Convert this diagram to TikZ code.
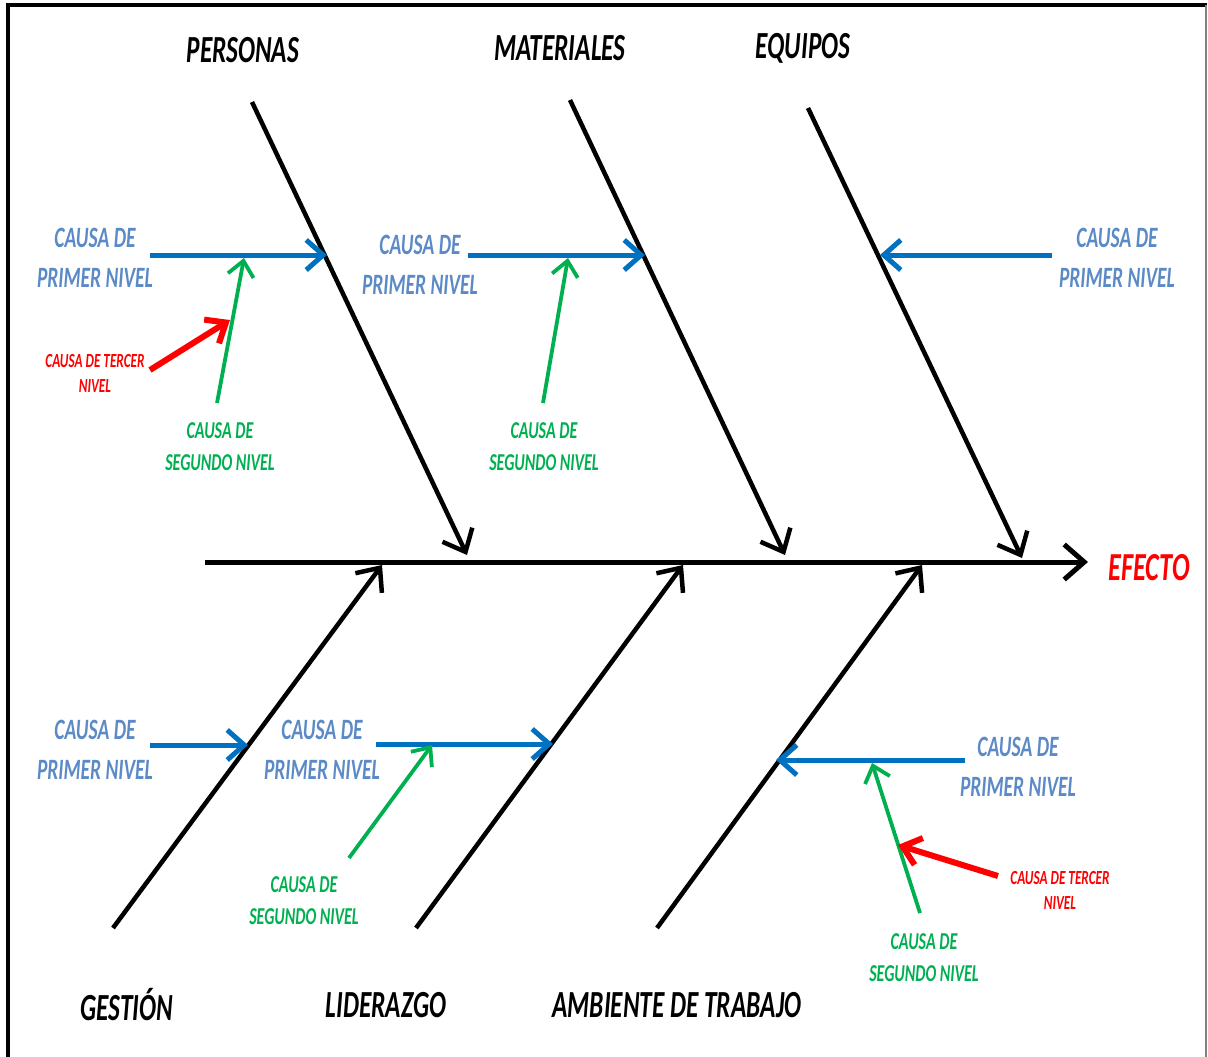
\documentclass[tikz,border=0pt]{standalone}
\usepackage{fontspec}
\setmainfont{Carlito}[FakeStretch=0.66]
\usetikzlibrary{arrows.meta}
\usepackage{xcolor}

\definecolor{causeblue}{HTML}{0070C0}
\definecolor{textblue}{HTML}{5B8AC6}
\definecolor{causegreen}{HTML}{00B050}
\definecolor{causered}{HTML}{FF0000}

\tikzset{
    bone/.style={line width=0.45mm, -{Straight Barb[length=1.9mm,width=3.3mm]}},
    first/.style={causeblue, line width=0.5mm, -{Straight Barb[length=1.7mm,width=3mm]}},
    second/.style={causegreen, line width=0.38mm, -{Straight Barb[length=1.5mm,width=2.6mm]}},
    third/.style={causered, line width=0.6mm, -{Straight Barb[length=1.7mm,width=2.8mm]}},
    title/.style={inner sep=0, font=\fontsize{10.9}{12}\selectfont\bfseries\itshape},
    firsttext/.style={inner sep=0, align=center, text=textblue, font=\fontsize{8.4}{11.4}\selectfont\bfseries\itshape},
    secondtext/.style={inner sep=0, align=center, text=causegreen, font=\fontsize{6.9}{9.1}\selectfont\bfseries\itshape},
    thirdtext/.style={inner sep=0, align=center, text=causered, font=\fontsize{5.7}{7.1}\selectfont\bfseries\itshape}
}

\begin{document}
\begin{tikzpicture}[x=0.01cm, y=-0.01cm]
    \useasboundingbox (0,0) rectangle (1208,1057);
    % frame
    \draw[line width=0.4mm] (8,1057) -- (8,5) -- (1207,5);
    \draw[gray, line width=0.2mm] (1206,5) -- (1206,1057);

    % spine
    \coordinate (tail) at (205,562);
    \coordinate (head) at (1088,562);
    \draw[bone, line width=0.5mm, -{Straight Barb[length=2mm,width=3.5mm]}] (tail) -- (head);
    \node[title, text=causered, font=\fontsize{11.3}{12}\selectfont\bfseries\itshape, anchor=west] (efecto) at (1108,568) {EFECTO};

    % upper bones
    \coordinate (p1) at (252,102);  \coordinate (p2) at (467,555);
    \coordinate (m1) at (570,100);  \coordinate (m2) at (785,555);
    \coordinate (e1) at (808,108);  \coordinate (e2) at (1022,558);
    \draw[bone] (p1) -- (p2);
    \draw[bone] (m1) -- (m2);
    \draw[bone] (e1) -- (e2);
    \node[title] (personas) at (243,50) {PERSONAS};
    \node[title] (materiales) at (560,48) {MATERIALES};
    \node[title] (equipos) at (803,48) {EQUIPOS};

    % lower bones
    \coordinate (g1) at (113,928);  \coordinate (g2) at (382,565);
    \coordinate (l1) at (416,928);  \coordinate (l2) at (683,565);
    \coordinate (a1) at (657,928);  \coordinate (a2) at (922,565);
    \draw[bone] (g1) -- (g2);
    \draw[bone] (l1) -- (l2);
    \draw[bone] (a1) -- (a2);
    \node[title] (gestion) at (127,1005) {GESTIÓN};
    \node[title] (liderazgo) at (386,1005) {LIDERAZGO};
    \node[title] (ambiente) at (677,1005) {AMBIENTE DE TRABAJO};

    % first level causes
    \node[firsttext] (c1) at (95,258) {CAUSA DE\\PRIMER NIVEL};
    \node[firsttext] (c2) at (420,265) {CAUSA DE\\PRIMER NIVEL};
    \node[firsttext] (c3) at (1117,258) {CAUSA DE\\PRIMER NIVEL};
    \node[firsttext] (c4) at (95,750) {CAUSA DE\\PRIMER NIVEL};
    \node[firsttext] (c5) at (322,750) {CAUSA DE\\PRIMER NIVEL};
    \node[firsttext] (c6) at (1018,767) {CAUSA DE\\PRIMER NIVEL};
    \coordinate (c1s) at (150,255);  \coordinate (c1e) at (327,255);
    \coordinate (c2s) at (468,255);  \coordinate (c2e) at (645,255);
    \coordinate (c3s) at (1052,255); \coordinate (c3e) at (880,255);
    \coordinate (c4s) at (150,745);  \coordinate (c4e) at (248,745);
    \coordinate (c5s) at (376,744);  \coordinate (c5e) at (553,744);
    \coordinate (c6s) at (965,760);  \coordinate (c6e) at (776,760);
    \draw[first] (c1s) -- (c1e);
    \draw[first] (c2s) -- (c2e);
    \draw[first] (c3s) -- (c3e);
    \draw[first] (c4s) -- (c4e);
    \draw[first] (c5s) -- (c5e);
    \draw[first] (c6s) -- (c6e);

    % second level causes
    \node[secondtext] (s1) at (220,447) {CAUSA DE\\SEGUNDO NIVEL};
    \node[secondtext] (s2) at (544,447) {CAUSA DE\\SEGUNDO NIVEL};
    \node[secondtext] (s3) at (304,901) {CAUSA DE\\SEGUNDO NIVEL};
    \node[secondtext] (s4) at (924,958) {CAUSA DE\\SEGUNDO NIVEL};
    \coordinate (s1s) at (217,403);  \coordinate (s1e) at (244,258);
    \coordinate (s2s) at (543,403);  \coordinate (s2e) at (568,258);
    \coordinate (s3s) at (349,858);  \coordinate (s3e) at (432,745);
    \coordinate (s4s) at (920,913);  \coordinate (s4e) at (872,763);
    \draw[second] (s1s) -- (s1e);
    \draw[second] (s2s) -- (s2e);
    \draw[second] (s3s) -- (s3e);
    \draw[second] (s4s) -- (s4e);

    % third level causes
    \node[thirdtext] (t1) at (95,373) {CAUSA DE TERCER\\NIVEL};
    \node[thirdtext] (t2) at (1060,890) {CAUSA DE TERCER\\NIVEL};
    \coordinate (t1s) at (150,370);  \coordinate (t1e) at (230,320);
    \coordinate (t2s) at (998,876);  \coordinate (t2e) at (898,845);
    \draw[third] (t1s) -- (t1e);
    \draw[third] (t2s) -- (t2e);
\end{tikzpicture}
\end{document}
